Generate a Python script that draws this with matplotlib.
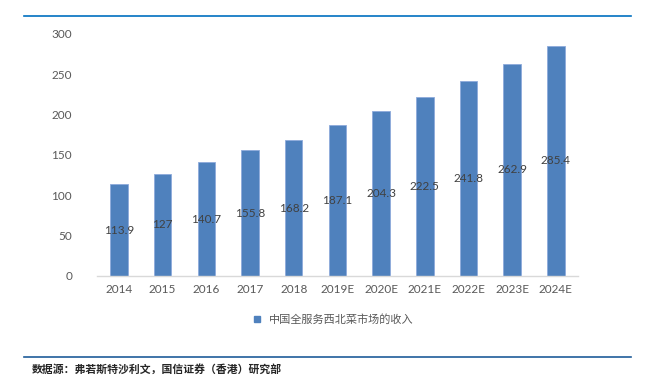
import matplotlib
matplotlib.use("Agg")
import matplotlib.pyplot as plt
import matplotlib.lines as mlines

plt.rcParams['font.family'] = ['Lato', 'Noto Sans CJK SC', 'DejaVu Sans']

years = ['2014', '2015', '2016', '2017', '2018', '2019E', '2020E',
         '2021E', '2022E', '2023E', '2024E']
revenue = [113.9, 127, 140.7, 155.8, 168.2, 187.1, 204.3, 222.5, 241.8, 262.9, 285.4]
value_labels = ['113.9', '127', '140.7', '155.8', '168.2', '187.1', '204.3',
                '222.5', '241.8', '262.9', '285.4']
series_name = '中国全服务西北菜市场的收入'
source_text = '数据源：弗若斯特沙利文，国信证券（香港）研究部'

fig = plt.figure(figsize=(6.47, 3.82), dpi=100)
ax = fig.add_axes([0.150, 0.2775, 0.743, 0.6335])

x = range(len(years))
bars = ax.bar(x, revenue, width=0.4, color='#4F81BD', edgecolor='#8EAADB',
              linewidth=0.6, label=series_name)
for xi, v, lab in zip(x, revenue, value_labels):
    ax.text(xi, v / 2, lab, ha='center', va='center', fontsize=8.5, color='#404040')

ax.set_xlim(-0.5, len(years) - 0.5)
ax.set_ylim(0, 300)
ax.set_yticks([0, 50, 100, 150, 200, 250, 300])
ax.set_xticks(list(x))
ax.set_xticklabels(years)
ax.tick_params(axis='both', length=0, labelsize=8.5, colors='#595959')
ax.tick_params(axis='y', pad=18)
ax.tick_params(axis='x', pad=6)
for s in ['top', 'right', 'left']:
    ax.spines[s].set_visible(False)
ax.spines['bottom'].set_color('#D9D9D9')
ax.spines['bottom'].set_linewidth(1.0)

handle = mlines.Line2D([], [], marker='s', color='#4F81BD', linestyle='None', markersize=5)
fig.legend([handle], [series_name], loc='center', bbox_to_anchor=(0.51, 0.163),
           frameon=False, handletextpad=0.1, labelcolor='#595959',
           prop={'family': ['Noto Sans CJK SC'], 'size': 8})

# header and footer rules
fig.add_artist(mlines.Line2D([0.037, 0.975], [1 - 16 / 382, 1 - 16 / 382],
                             color='#0070C0', linewidth=1.2))
fig.add_artist(mlines.Line2D([0.037, 0.975], [1 - 357 / 382, 1 - 357 / 382],
                             color='#1F5C99', linewidth=1.2))
fig.text(0.049, 1 - 369 / 382, source_text, fontsize=7.8, fontweight='bold',
         color='#262626', va='center', ha='left', family=['Noto Sans CJK SC'])

fig.savefig('out.png', dpi=100)
